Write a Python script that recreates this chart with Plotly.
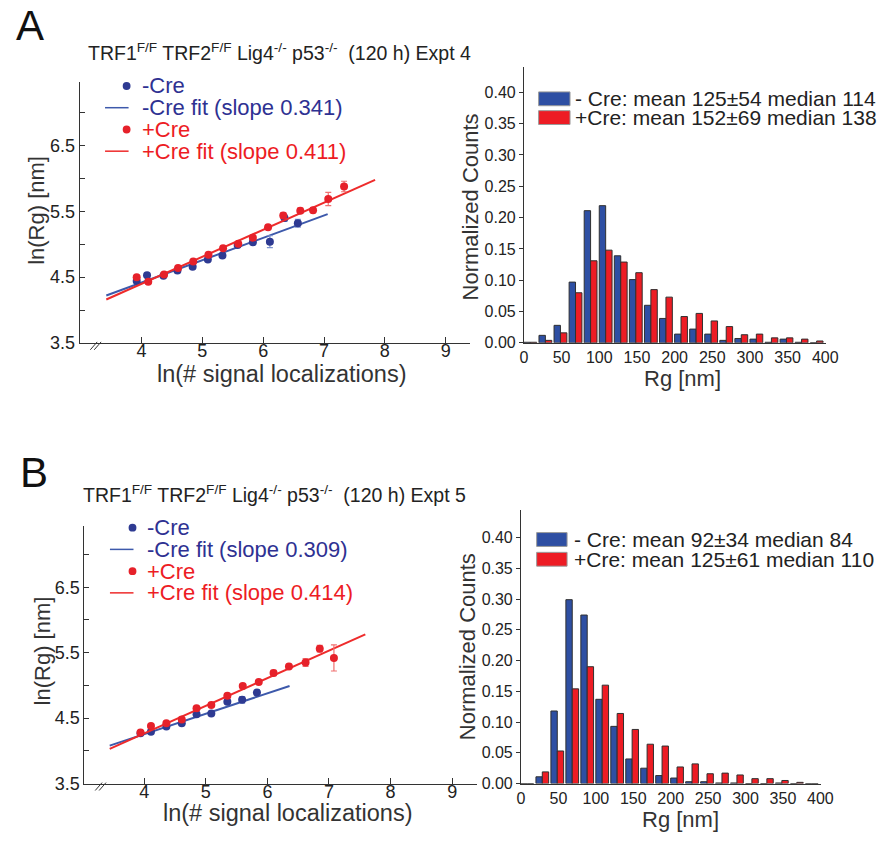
import plotly.graph_objects as go

W, H = 893, 841

# ---------------- data ----------------
# Panel A scatter (ln values)
a_minus_x = [3.92, 4.09, 4.36, 4.59, 4.84, 5.09, 5.33, 5.58, 5.83, 6.11, 6.35, 6.57]
a_minus_y = [4.44, 4.53, 4.52, 4.60, 4.66, 4.77, 4.83, 4.99, 5.03, 5.04, 5.40, 5.32]
a_minus_err = [0.02, 0.02, 0.02, 0.03, 0.03, 0.03, 0.03, 0.03, 0.03, 0.09, 0.05, 0.06]
a_plus_x = [3.92, 4.11, 4.37, 4.60, 4.85, 5.10, 5.34, 5.59, 5.83, 6.08, 6.33, 6.61, 6.82, 7.07, 7.33]
a_plus_y = [4.50, 4.43, 4.54, 4.64, 4.74, 4.84, 4.94, 5.01, 5.10, 5.26, 5.44, 5.51, 5.52, 5.69, 5.88]
a_plus_err = [0.02, 0.02, 0.02, 0.02, 0.02, 0.02, 0.02, 0.02, 0.03, 0.03, 0.04, 0.04, 0.04, 0.10, 0.08]
a_minus_fit_x = [3.42, 7.06]
a_minus_fit_y = [4.22, 5.46]
a_plus_fit_x = [3.42, 7.84]
a_plus_fit_y = [4.16, 5.98]

# Panel B scatter
b_minus_x = [3.94, 4.11, 4.36, 4.61, 4.85, 5.09, 5.35, 5.59, 5.83]
b_minus_y = [4.27, 4.29, 4.37, 4.42, 4.56, 4.57, 4.75, 4.78, 4.89]
b_minus_err = [0.02, 0.02, 0.02, 0.02, 0.02, 0.02, 0.03, 0.05, 0.04]
b_plus_x = [3.94, 4.11, 4.36, 4.61, 4.85, 5.09, 5.35, 5.60, 5.86, 6.10, 6.35, 6.62, 6.85, 7.08]
b_plus_y = [4.28, 4.38, 4.42, 4.48, 4.65, 4.70, 4.84, 4.99, 5.05, 5.19, 5.29, 5.35, 5.56, 5.42]
b_plus_err = [0.02, 0.02, 0.02, 0.03, 0.02, 0.03, 0.03, 0.02, 0.02, 0.04, 0.03, 0.06, 0.05, 0.20]
b_minus_fit_x = [3.44, 6.36]
b_minus_fit_y = [4.08, 4.99]
b_plus_fit_x = [3.44, 7.59]
b_plus_fit_y = [4.03, 5.78]

# Histograms (Rg bins, 20 nm wide)
bin_centers = [8.5, 28.5, 48.5, 68.5, 88.5, 108.5, 128.5, 148.5, 168.5, 188.5,
               208.5, 228.5, 248.5, 268.5, 288.5, 308.5, 328.5, 348.5, 368.5, 388.5]
a_hist_minus = [0.001, 0.012, 0.028, 0.097, 0.211, 0.219, 0.139, 0.101, 0.060, 0.039,
                0.014, 0.022, 0.014, 0.004, 0.007, 0.006, 0.001, 0.006, 0.001, 0.000]
a_hist_plus = [0.001, 0.004, 0.016, 0.080, 0.131, 0.148, 0.129, 0.112, 0.085, 0.073,
               0.042, 0.047, 0.035, 0.026, 0.013, 0.014, 0.008, 0.008, 0.006, 0.003]
b_hist_minus = [0.000, 0.011, 0.118, 0.299, 0.274, 0.137, 0.093, 0.040, 0.025, 0.013,
                0.009, 0.003, 0.003, 0.001, 0.001, 0.000, 0.000, 0.001, 0.000, 0.000]
b_hist_plus = [0.000, 0.019, 0.053, 0.154, 0.190, 0.160, 0.114, 0.088, 0.064, 0.061,
               0.027, 0.032, 0.016, 0.017, 0.014, 0.008, 0.008, 0.005, 0.002, 0.000]

scatter_xticks = [4, 5, 6, 7, 8, 9]
scatter_yticks = [3.5, 4.5, 5.5, 6.5]
scatter_yminor = [4.0, 5.0, 6.0, 7.0]
hist_yticks = [0.00, 0.05, 0.10, 0.15, 0.20, 0.25, 0.30, 0.35, 0.40]
hist_xticks = [0, 50, 100, 150, 200, 250, 300, 350, 400]

title_text = "TRF1<sup>F/F</sup> TRF2<sup>F/F</sup> Lig4<sup>-/-</sup> p53<sup>-/-</sup>  (120 h) Expt "
legend_a = ["-Cre", "-Cre fit (slope 0.341)", "+Cre", "+Cre fit (slope 0.411)"]
legend_b = ["-Cre", "-Cre fit (slope 0.309)", "+Cre", "+Cre fit (slope 0.414)"]
hist_leg_a = ["- Cre: mean 125±54 median 114", "+Cre: mean 152±69 median 138"]
hist_leg_b = ["- Cre: mean 92±34 median 84", "+Cre: mean 125±61 median 110"]

# ---------------- styling ----------------
FONT = "Arial, Liberation Sans, Helvetica, sans-serif"
DOT_BLUE = "#2E3A92"
DOT_RED = "#E6212A"
LINE_BLUE = "#3D59AB"
LINE_RED = "#EE2B2B"
ERR_BLUE = "#7D93CF"
ERR_RED = "#F07070"
TXT_BLUE = "#2E3192"
TXT_RED = "#ED1C24"
BAR_BLUE = "#2E4FA3"
BAR_RED = "#ED1C24"
AX = "#333333"


def px(x):
    return x / W


def py(y):
    return 1 - y / H


fig = go.Figure()


def add_scatter(xa, ya, xs, ys, errs, fx, fy, mcol, lcol, ecol):
    fig.add_trace(go.Scatter(
        x=fx, y=fy, mode="lines", line=dict(color=lcol, width=2),
        xaxis=xa, yaxis=ya, showlegend=False, hoverinfo="skip"))
    fig.add_trace(go.Scatter(
        x=xs, y=ys, mode="markers",
        marker=dict(color=mcol, size=8, line=dict(width=0)),
        error_y=dict(type="data", array=errs, color=ecol, thickness=1.2, width=3),
        xaxis=xa, yaxis=ya, showlegend=False))


add_scatter("x", "y", a_minus_x, a_minus_y, a_minus_err, a_minus_fit_x, a_minus_fit_y,
            DOT_BLUE, LINE_BLUE, ERR_BLUE)
add_scatter("x", "y", a_plus_x, a_plus_y, a_plus_err, a_plus_fit_x, a_plus_fit_y,
            DOT_RED, LINE_RED, ERR_RED)
add_scatter("x3", "y3", b_minus_x, b_minus_y, b_minus_err, b_minus_fit_x, b_minus_fit_y,
            DOT_BLUE, LINE_BLUE, ERR_BLUE)
add_scatter("x3", "y3", b_plus_x, b_plus_y, b_plus_err, b_plus_fit_x, b_plus_fit_y,
            DOT_RED, LINE_RED, ERR_RED)

for xa, ya, hm, hp in [("x2", "y2", a_hist_minus, a_hist_plus),
                       ("x4", "y4", b_hist_minus, b_hist_plus)]:
    fig.add_trace(go.Bar(x=bin_centers, y=hm, marker=dict(color=BAR_BLUE, line=dict(color="#303030", width=1)),
                         xaxis=xa, yaxis=ya, showlegend=False, offsetgroup="m"))
    fig.add_trace(go.Bar(x=bin_centers, y=hp, marker=dict(color=BAR_RED, line=dict(color="#303030", width=1)),
                         xaxis=xa, yaxis=ya, showlegend=False, offsetgroup="p"))

tickfont_s = dict(family=FONT, size=18, color="#222")
tickfont_h = dict(family=FONT, size=16, color="#222")


def scatter_axes(xdom, ydom, yr, xr):
    xa = dict(domain=[px(xdom[0]), px(xdom[1])], range=xr, showline=True, linecolor=AX, linewidth=1,
              ticks="inside", ticklen=6, tickcolor=AX, tickmode="array", tickvals=scatter_xticks,
              tickfont=tickfont_s, ticklabelstandoff=-8,
              showgrid=False, zeroline=False, fixedrange=True)
    ya = dict(domain=[py(ydom[1]), py(ydom[0])], range=yr, showline=True, linecolor=AX, linewidth=1,
              ticks="inside", ticklen=5, tickcolor=AX, tickmode="array", tickvals=scatter_yticks,
              tickformat=".1f", tickfont=tickfont_s,
              minor=dict(tickmode="array", tickvals=scatter_yminor, ticks="inside", ticklen=5,
                         tickcolor=AX, showgrid=False),
              showgrid=False, zeroline=False, fixedrange=True)
    return xa, ya


def hist_axes(xdom, ydom, yr):
    xa = dict(domain=[px(xdom[0]), px(xdom[1])], range=[0, 401], showline=True, linecolor=AX, linewidth=1,
              ticks="", tickmode="array", tickvals=hist_xticks, tickfont=tickfont_h,
              showgrid=False, zeroline=False, fixedrange=True)
    ya = dict(domain=[py(ydom[1]), py(ydom[0])], range=yr, showline=True, linecolor=AX, linewidth=1,
              ticks="outside", ticklen=4, tickcolor=AX, tickmode="array", tickvals=hist_yticks,
              tickformat=".2f", tickfont=tickfont_h, showgrid=False, zeroline=False, fixedrange=True)
    return xa, ya


xa1, ya1 = scatter_axes((77, 475), (83, 347), [3.5, 7.47], [2.98, 9.4])
xa2, ya2 = hist_axes((530, 838), (68, 347), [0, 0.44])
xa3, ya3 = scatter_axes((82, 482), (532, 793), [3.5, 7.44], [3.03, 9.4])
xa4, ya4 = hist_axes((527, 833), (516, 793), [0, 0.445])
ya1["anchor"] = "x"; xa1["anchor"] = "y"
ya2["anchor"] = "x2"; xa2["anchor"] = "y2"
ya3["anchor"] = "x3"; xa3["anchor"] = "y3"
ya4["anchor"] = "x4"; xa4["anchor"] = "y4"

annotations = []
shapes = []


def text(x, y, s, size, color="#222", xanchor="left", angle=0):
    annotations.append(dict(x=px(x), y=py(y), xref="paper", yref="paper", text=s, showarrow=False,
                            xanchor=xanchor, yanchor="middle", textangle=angle,
                            font=dict(family=FONT, size=size, color=color)))


# panel letters and titles
text(26, 26, "A", 42, "#111", "center")
text(31, 478, "B", 42, "#111", "center")
text(84, 53, title_text + "4", 19.5, "#222")
text(78, 500, title_text + "5", 19.5, "#222")

# axis titles
text(283, 378, "ln(# signal localizations)", 23.5, "#333", "center")
text(289, 823, "ln(# signal localizations)", 23.5, "#333", "center")
text(33, 213, "ln(Rg) [nm]", 22, "#333", "center", -90)
text(39, 659, "ln(Rg) [nm]", 22, "#333", "center", -90)
text(476, 209, "Normalized Counts", 22, "#333", "center", -90)
text(472, 655, "Normalized Counts", 22, "#333", "center", -90)
text(692, 383, "Rg [nm]", 22, "#333", "center")
text(690, 829, "Rg [nm]", 22, "#333", "center")


def scatter_legend(xdot, xl0, xl1, xtext, ys, labels):
    cols = [DOT_BLUE, LINE_BLUE, DOT_RED, LINE_RED]
    tcols = [TXT_BLUE, TXT_BLUE, TXT_RED, TXT_RED]
    for i, (y, lab) in enumerate(zip(ys, labels)):
        if i % 2 == 0:
            shapes.append(dict(type="circle", xref="paper", yref="paper",
                               x0=px(xdot - 4), x1=px(xdot + 4), y0=py(y + 4), y1=py(y - 4),
                               fillcolor=cols[i], line=dict(width=0)))
        else:
            shapes.append(dict(type="line", xref="paper", yref="paper",
                               x0=px(xl0), x1=px(xl1), y0=py(y), y1=py(y),
                               line=dict(color=cols[i], width=1.5)))
        text(xtext, y, lab, 22, tcols[i])


scatter_legend(125, 103, 127, 139, [87, 109, 131, 153], legend_a)
scatter_legend(131, 108, 132, 144, [534, 556, 578, 600], legend_b)


def hist_legend(x0, x1, ys, xtext, labels):
    for y, col, lab in zip(ys, [BAR_BLUE, BAR_RED], labels):
        shapes.append(dict(type="rect", xref="paper", yref="paper",
                           x0=px(x0), x1=px(x1), y0=py(y + 7), y1=py(y - 7),
                           fillcolor=col, line=dict(color="#9a9a9a", width=1)))
        text(xtext, y, lab, 21, "#222")


hist_legend(545, 577, [100, 119], 580, hist_leg_a)
hist_legend(543, 574, [546, 566], 579, hist_leg_b)

# axis break marks "//"
for (bx, by) in [(88, 350), (93, 796)]:
    for dx in (0, 4):
        shapes.append(dict(type="line", xref="paper", yref="paper",
                           x0=px(bx + dx), y0=py(by + 4), x1=px(bx + dx + 7), y1=py(by - 4),
                           line=dict(color=AX, width=1)))

fig.update_layout(
    width=W, height=H, margin=dict(l=0, r=0, t=0, b=0),
    paper_bgcolor="white", plot_bgcolor="white",
    barmode="group", bargap=0.15, bargroupgap=0.0,
    xaxis=xa1, yaxis=ya1, xaxis2=xa2, yaxis2=ya2,
    xaxis3=xa3, yaxis3=ya3, xaxis4=xa4, yaxis4=ya4,
    annotations=annotations, shapes=shapes, showlegend=False,
    font=dict(family=FONT),
)

fig.write_html("out.html", config={"displayModeBar": False},
               post_script="document.body.style.margin='0';document.body.style.overflow='hidden';")
